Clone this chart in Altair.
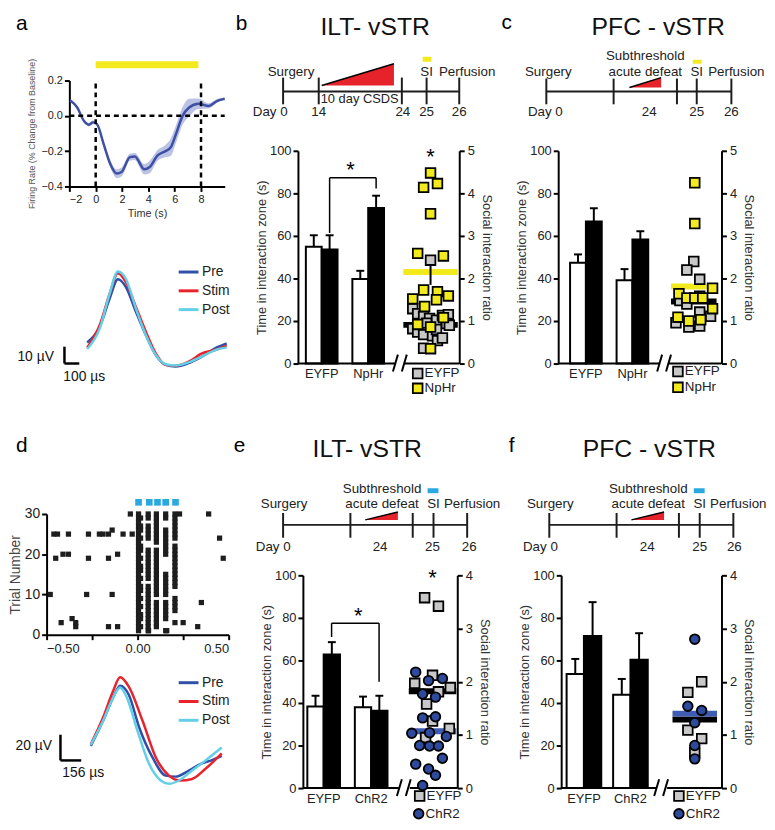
import altair as alt
import pandas as pd

FONT = "Liberation Sans"
YELLOW = "#f3ea1d"
RED = "#e6232a"
SKY = "#2aa9e0"
GRAY = "#c8c8c8"
NAVY = "#2d4a9d"
MEANBLUE = "#3f5cb5"
INK = "#1e1e1e"

# ======================= DATA =======================
# ---- a: firing rate (% change from baseline) ----
fr_time = [-1.95, -1.4, -0.9, -0.52, -0.2, 0.1, 0.6, 1.1, 1.6, 1.97, 2.6, 2.97,
           3.7, 4.1, 4.7, 5.3, 5.7, 6.1, 6.6, 7.1, 7.8, 8.6, 9.2, 9.8]
fr_mean = [0.088, 0.047, -0.028, -0.05, -0.037, -0.047, -0.159, -0.271, -0.327, -0.318,
           -0.234, -0.23, -0.303, -0.29, -0.224, -0.2, -0.178, -0.103, 0.0, 0.047,
           0.069, 0.056, 0.084, 0.097]
fr_sem = [0.005, 0.005, 0.005, 0.01, 0.01, 0.01, 0.015, 0.02, 0.025, 0.025, 0.02, 0.02,
          0.03, 0.035, 0.03, 0.035, 0.05, 0.05, 0.05, 0.05, 0.03, 0.015, 0.01, 0.005]
light_a = [0.0, 7.8]
events_a = [0, 8]

# ---- a: waveforms (us, uV) ----
wave_series = ["Pre", "Stim", "Post"]
wa_t = [0, 84, 151, 207, 262, 329, 396, 462, 529, 596, 684, 773, 862, 940]
wa_pre = [14.3, 23.5, 40.2, 51.9, 47.1, 32.4, 18.6, 6.9, 1.0, 0.0, 2.0, 5.9, 10.8, 13.7]
wa_stim = [11.2, 24.5, 43.1, 55.5, 50.0, 35.3, 20.6, 7.8, 1.0, 0.4, 2.9, 7.8, 9.8, 12.4]
wa_post = [10.4, 22.5, 43.1, 56.5, 51.9, 34.3, 18.6, 6.9, 1.4, 0.6, 2.5, 5.9, 9.8, 11.4]
scalebar_a = {"uV": 10, "us": 100}

# ---- d: waveforms ----
wd_pre_t = [0, 91, 166, 220, 285, 364, 463, 562, 636, 736, 834, 909, 983]
wd_pre = [29.5, 48.8, 66.7, 76.2, 69.2, 43.6, 20.5, 6.4, 5.6, 10.3, 15.9, 18.5, 21.8]
wd_stim_t = [0, 91, 166, 220, 285, 389, 488, 587, 673, 760, 859, 983]
wd_stim = [30.8, 51.3, 71.8, 82.8, 75.6, 48.8, 20.5, 6.4, 2.6, 3.8, 11.5, 23.6]
wd_post_t = [0, 91, 166, 220, 270, 351, 438, 525, 587, 661, 760, 859, 983]
wd_post = [30.3, 48.8, 66.7, 74.9, 67.2, 41.0, 15.4, 2.6, 0.0, 2.6, 10.3, 18.0, 28.2]
scalebar_d = {"uV": 20, "us": 156}

# ---- d: raster ----
pulse_t = [0.005, 0.058, 0.103, 0.154, 0.205]
pulse_trials = [
    [1, 2, 3, 4, 5, 6, 7, 8, 9, 10, 11, 12, 13, 14, 15, 16, 17, 18, 19, 20, 21, 22, 23, 24, 25, 26, 27, 28, 29, 30],
    [1, 2, 3, 4, 5, 6, 7, 8, 9, 10, 11, 12, 14, 15, 16, 17, 18, 19, 20, 21, 24, 25, 26, 27, 29, 30],
    [2, 3, 4, 5, 6, 7, 8, 10, 11, 12, 13, 14, 15, 16, 17, 18, 19, 20, 21, 23, 24, 25, 26, 27, 28, 29, 30],
    [1, 4, 5, 6, 7, 8, 10, 11, 12, 13, 14, 15, 20, 21, 22, 23, 24, 25, 26, 29, 30],
    [3, 6, 7, 8, 9, 12, 13, 14, 15, 16, 17, 18, 19, 20, 21, 22, 24, 25, 26, 27, 28, 29, 30],
]
# second spike within the first pulse window (makes the 0-20 ms column wider)
pulse0_late_t = 0.016
pulse0_late_trials = [2, 4, 5, 7, 9, 11, 12, 14, 16, 17, 19, 21, 22, 24, 26, 27, 29]
bg_t = [-0.46, -0.44, -0.38, -0.27, -0.21, -0.19, -0.16, -0.14, -0.08, -0.04, -0.03,
        -0.45, -0.41, -0.38, -0.27, -0.16, -0.11, -0.48, -0.28, -0.14,
        -0.42, -0.36, -0.34, -0.34, -0.16, -0.11, 0.23, 0.39, 0.45, 0.47, 0.35, 0.25,
        0.33, 0.06, 0.16]
bg_trial = [25, 25, 25, 25, 25, 25, 25, 26, 25, 30, 25,
            19, 20, 20, 19, 19, 20, 10, 10, 10,
            3, 4, 3, 2, 2, 2, 30, 30, 24, 19, 8, 3,
            2, 1, 1]
stim_pulses_d = [0.005, 0.064, 0.109, 0.154, 0.208]

# ---- bar panels ----
grp_b = ["EYFP", "NpHr"]
b_white, b_white_sem = [54.9, 39.7], [5.4, 3.9]
b_black, b_black_sem = [53.6, 73.1], [6.7, 5.8]
b_eyfp = [2.43, 1.29, 1.17, 1.11, 1.06, 1.02, 1.13, 1.15, 0.82, 0.74, 0.68, 0.65, 0.54, 0.94, 0.90, 0.36, 0.80, 0.60, 0.95]
b_eyfp_jit = [0, -18, -13, -7, -1, 6, 12, 18, -18, -13, -7, 2, 7, 16, 19, -7, 6, 12, -4]
b_nphr = [4.48, 4.14, 4.23, 3.52, 2.59, 2.53, 1.73, 1.69, 1.50, 1.59, 1.52, 1.34, 1.08, 0.92, 0.86, 0.35]
b_nphr_jit = [0, -7, 7, 0, -13, 13, -7, 7, 6, 18, -18, -6, 13, -13, 0, 0]
b_means = [0.91, 2.15]
b_sc_sem = [0.0, 0.3]

grp_c = ["EYFP", "NpHr"]
c_white, c_white_sem = [47.4, 39.2], [3.9, 5.2]
c_black, c_black_sem = [66.8, 58.3], [6.2, 3.9]
c_eyfp = [2.40, 2.20, 1.98, 1.48, 1.40, 1.58, 1.21, 1.11, 0.96, 0.86, 0.88]
c_eyfp_jit = [0, -7, 6, -14, -7, 6, 6, 17, -18, -5, 6]
c_nphr = [4.25, 3.29, 1.64, 1.54, 1.54, 1.54, 1.77, 1.29, 1.09, 1.00, 1.03]
c_nphr_jit = [1, 1, -15, -7, 1, 9, 19, 19, -16, -5, 7]
c_means = [1.46, 1.81]

grp_e = ["EYFP", "ChR2"]
e_white, e_white_sem = [38.4, 38.0], [5.0, 5.0]
e_black, e_black_sem = [62.8, 36.4], [5.8, 7.0]
e_eyfp = [3.58, 3.42, 2.12, 1.97, 1.89, 1.81, 1.58, 1.26, 1.12, 0.95]
e_eyfp_jit = [-8, 6, 0, -18, 18, 6, -6, 0, 17, -7]
e_chr2 = [2.18, 2.02, 2.06, 1.77, 1.71, 1.32, 1.34, 1.03, 1.04, 0.97, 0.80, 0.79, 0.79, 0.56, 0.45, 0.36, 0.24, 0.05]
e_chr2_jit = [-17, -4, 10, -10, 3, -10, 3, -21, -3, 14, -13, -3, 6, 10, -17, -4, 3, -10]
e_means = [1.82, 1.07]

grp_f = ["EYFP", "ChR2"]
f_white, f_white_sem = [53.6, 43.9], [7.1, 7.4]
f_black, f_black_sem = [71.5, 60.3], [15.9, 12.5]
f_eyfp = [2.0, 1.8, 1.09, 0.93, 0.67]
f_eyfp_jit = [7, -7, -7, 7, 0]
f_chr2 = [2.8, 1.54, 1.46, 1.23, 0.80, 0.55]
f_chr2_jit = [0, -7, 7, 0, 0, 0]
f_means = [1.29, 1.40]

# ---- timelines ----
days_b = ["Day 0", "14", "24", "25", "26"]
events_b = ["Surgery", "SI", "Perfusion"]
protocol_b = "10 day CSDS"
days_sub = ["Day 0", "24", "25", "26"]
events_sub = ["Surgery", "Subthreshold", "acute defeat", "SI", "Perfusion"]

# ======================= LAYOUT (page pixels) =======================
ORIGIN = {"a": (66, 40), "b": (302, 40), "c": (563, 40),
          "d": (66, 402), "e": (302, 402), "f": (563, 402)}
VIEW = {"a": (133, 143), "b": (158, 322), "c": (162, 322),
        "d": (133, 234), "e": (156, 389), "f": (162, 389)}


def S(domain, rng):
    return alt.Scale(domain=domain, range=rng, nice=False, zero=False)


def letter(txt, page_xy, O, size=21):
    return alt.Chart(pd.DataFrame({"txt": [txt]})).mark_text(
        fontSize=size, font=FONT, color="black", align="center", baseline="middle", clip=False
    ).encode(x=alt.value(page_xy[0] - O[0]), y=alt.value(page_xy[1] - O[1]), text="txt:N")


AXS = dict(domainColor="black", domainWidth=2, tickColor="black", tickWidth=2, grid=False,
           labelColor="#222", titleFontWeight="normal", labelFont=FONT, titleFont=FONT)


def wave_layer(series_t, series_v, xs, ys, sb, sb_anchor, txt_uv, txt_us, leg_xy):
    rows = []
    for name, ts, vs in zip(wave_series, series_t, series_v):
        for t, v in zip(ts, vs):
            rows.append({"series": name, "t": t, "v": v})
    df = pd.DataFrame(rows)
    X = lambda f: alt.X(f, scale=xs, axis=None)
    Y = lambda f: alt.Y(f, scale=ys, axis=None)
    lines = alt.Chart(df).mark_line(strokeWidth=2.5, interpolate="monotone", clip=False).encode(
        x=X("t:Q"), y=Y("v:Q"),
        color=alt.Color("series:N", sort=wave_series,
                        scale=alt.Scale(domain=wave_series, range=["#2f4fa8", "#e8232b", "#63cfe6"]),
                        legend=alt.Legend(orient="none", legendX=leg_xy[0], legendY=leg_xy[1], title=None,
                                          symbolType="stroke", symbolSize=400, symbolStrokeWidth=3,
                                          labelFontSize=14, labelOffset=2, rowPadding=-8,
                                          labelFont=FONT, labelColor="#222")))
    t0, v0 = sb_anchor
    vbar = pd.DataFrame({"t": [t0], "v": [v0], "v2": [v0 + sb["uV"]]})
    hbar = pd.DataFrame({"t": [t0], "t2": [t0 + sb["us"]], "v": [v0]})
    r1 = alt.Chart(vbar).mark_rule(color="black", strokeWidth=2.5, clip=False).encode(
        x=X("t:Q"), y=Y("v:Q"), y2="v2:Q")
    r2 = alt.Chart(hbar).mark_rule(color="black", strokeWidth=2.5, clip=False).encode(
        x=X("t:Q"), x2="t2:Q", y=Y("v:Q"))
    tdf = pd.DataFrame({"t": [txt_uv[0], txt_us[0]], "v": [txt_uv[1], txt_us[1]],
                        "txt": [f"{sb['uV']} µV", f"{sb['us']} µs"]})
    texts = alt.Chart(tdf).mark_text(fontSize=14, font=FONT, color="#111", baseline="middle",
                                     clip=False).encode(x=X("t:Q"), y=Y("v:Q"), text="txt:N")
    return alt.layer(lines, r1, r2, texts)


# ======================= PANEL a =======================
Oa = ORIGIN["a"]
fr_df = pd.DataFrame({"t": fr_time, "m": fr_mean, "s": fr_sem})
fr_df["lo"] = fr_df["m"] - fr_df["s"]
fr_df["hi"] = fr_df["m"] + fr_df["s"]

ax_ax = alt.Axis(values=[-2, 0, 2, 4, 6, 8], format="d", title="Time (s)", tickSize=5,
                 labelFontSize=11, titleFontSize=11, labelPadding=2, titlePadding=3,
                 titleColor="#333", **AXS)
ay_ax = alt.Axis(values=[-0.4, -0.2, 0, 0.2], format=".1f",
                 title="Firing Rate (% Change from Baseline)", tickSize=5,
                 labelFontSize=11, titleFontSize=9, titleColor="#555", labelPadding=2,
                 titlePadding=4, **AXS)
xs_a = S([-2, 9.8], [66 - Oa[0], 223 - Oa[0]])
ys_a = S([-0.4, 0.2], [183 - Oa[1], 76 - Oa[1]])
XA = lambda f: alt.X(f, scale=xs_a, axis=ax_ax)
YA = lambda f: alt.Y(f, scale=ys_a, axis=ay_ax)

band = alt.Chart(fr_df).mark_area(color="#bcc3e4", interpolate="monotone", clip=False).encode(
    x=XA("t:Q"), y=YA("lo:Q"), y2="hi:Q")
fr_line = alt.Chart(fr_df).mark_line(color="#3d50a3", strokeWidth=2.5, interpolate="monotone",
                                     clip=False).encode(x=XA("t:Q"), y=YA("m:Q"))
ev_df = pd.DataFrame({"t": events_a, "v": [-0.4] * 2, "v2": [0.2] * 2})
ev = alt.Chart(ev_df).mark_rule(color="black", strokeWidth=2.5, strokeDash=[5, 4], clip=False).encode(
    x=XA("t:Q"), y=YA("v:Q"), y2="v2:Q")
zero_df = pd.DataFrame({"t": [-2], "t2": [9.8], "v": [0.0]})
zero = alt.Chart(zero_df).mark_rule(color="black", strokeWidth=2.5, strokeDash=[5, 4], clip=False).encode(
    x=XA("t:Q"), x2="t2:Q", y=YA("v:Q"))
light_df = pd.DataFrame({"t": [light_a[0]], "t2": [light_a[1]], "v": [0.27], "v2": [0.31]})
light = alt.Chart(light_df).mark_rect(color=YELLOW, clip=False).encode(
    x=XA("t:Q"), x2="t2:Q", y=YA("v:Q"), y2="v2:Q")
anchor = alt.Chart(pd.DataFrame({"z": [0]})).mark_rect(opacity=0, clip=False).encode(
    x=alt.value(8 - Oa[0]), x2=alt.value(9 - Oa[0]), y=alt.value(8 - Oa[1]), y2=alt.value(9 - Oa[1]))
a_fr = alt.layer(band, fr_line, ev, zero, light, letter("a", (18, 19), Oa), anchor)

a_wave = wave_layer([wa_t, wa_t, wa_t], [wa_pre, wa_stim, wa_post],
                    S([0, 940], [84 - Oa[0], 225 - Oa[0]]), S([0, 60], [365 - Oa[1], 263 - Oa[1]]),
                    scalebar_a, (-153, 1.8), (-347, 5.9), (-20, -6.5), (175 - Oa[0], 258 - Oa[1]))
panel_a = alt.layer(a_fr, a_wave).resolve_scale(x="independent", y="independent").properties(
    width=VIEW["a"][0], height=VIEW["a"][1])

# ======================= PANEL d =======================
Od = ORIGIN["d"]
r_rows = []
for t, trials in zip(pulse_t, pulse_trials):
    for tr in trials:
        r_rows.append({"t": t, "trial": tr})
for tr in pulse0_late_trials:
    r_rows.append({"t": pulse0_late_t, "trial": tr})
for t, tr in zip(bg_t, bg_trial):
    r_rows.append({"t": t, "trial": tr})
r_df = pd.DataFrame(r_rows)
xs_r = S([-0.5, 0.5], [43 - Od[0], 227 - Od[0]])
ys_r = S([0, 30], [636 - Od[1], 514 - Od[1]])
rx_ax = alt.Axis(values=[-0.5, -0.25, 0, 0.25, 0.5], format=".2f", title=None, tickSize=5,
                 labelFontSize=13, labelPadding=3, **AXS)
ry_ax = alt.Axis(values=[0, 10, 20, 30], title="Trial Number", tickSize=5, labelFontSize=14,
                 titleFontSize=14, labelPadding=2, titlePadding=2, titleColor="#444",
                 offset=Od[0] - 43, **AXS)
raster_pts = alt.Chart(r_df).mark_square(size=28, color="#1e1e1e", opacity=1, clip=False).encode(
    x=alt.X("t:Q", scale=xs_r, axis=rx_ax), y=alt.Y("trial:Q", scale=ys_r, axis=ry_ax))
stim_df = pd.DataFrame({"t": stim_pulses_d, "trial": [32.9] * len(stim_pulses_d)})
stim_pts = alt.Chart(stim_df).mark_square(size=45, color=SKY, opacity=1, clip=False).encode(
    x=alt.X("t:Q", scale=xs_r, axis=rx_ax), y=alt.Y("trial:Q", scale=ys_r, axis=ry_ax))
raster = alt.layer(raster_pts, stim_pts, letter("d", (18, 445), Od))

d_wave = wave_layer([wd_pre_t, wd_stim_t, wd_post_t], [wd_pre, wd_stim, wd_post],
                    S([0, 983], [87.7 - Od[0], 220 - Od[0]]), S([0, 80], [786.7 - Od[1], 682.7 - Od[1]]),
                    scalebar_d, (-228, 18.2), (-429, 29), (-57, 8.2), (175 - Od[0], 673 - Od[1]))
panel_d = alt.layer(raster, d_wave).resolve_scale(x="independent", y="independent").properties(
    width=VIEW["d"][0], height=VIEW["d"][1])


# ======================= TIMELINES =======================
def timeline(L, O, days, events, protocol=None):
    tk = L["ticks"]
    xs = S([0, tk[-1]], [L["day0"] - O[0], L["day0"] + tk[-1] - O[0]])
    ys = S([-31, 47], [L["line"] + 31 - O[1], L["line"] - 47 - O[1]])
    X = lambda f: alt.X(f, scale=xs, axis=None)
    Y = lambda f: alt.Y(f, scale=ys, axis=None)
    line_df = pd.DataFrame({"x": [tk[0]], "x2": [tk[-1]], "y": [0]})
    tick_df = pd.DataFrame({"x": tk, "y": [L["tick_y"][0]] * len(tk), "y2": [L["tick_y"][1]] * len(tk)})
    base = alt.Chart(line_df).mark_rule(color=INK, strokeWidth=2, clip=False).encode(
        x=X("x:Q"), x2="x2:Q", y=Y("y:Q"))
    ticks = alt.Chart(tick_df).mark_rule(color=INK, strokeWidth=2, clip=False).encode(
        x=X("x:Q"), y=Y("y:Q"), y2="y2:Q")
    tri_df = pd.DataFrame({"x": L["tri"], "y": [L["tri_y"][0], L["tri_y"][1]], "y2": [L["tri_y"][0]] * 2})
    tri = alt.Chart(tri_df).mark_area(color=RED, opacity=1, clip=False).encode(
        x=X("x:Q"), y=Y("y:Q"), y2="y2:Q")
    hyp = alt.Chart(tri_df).mark_line(color="black", strokeWidth=1.4, clip=False).encode(
        x=X("x:Q"), y=Y("y:Q"))
    box_df = pd.DataFrame({"x": [L["box"][0]], "x2": [L["box"][1]], "y": [L["box_y"][0]], "y2": [L["box_y"][1]]})
    box = alt.Chart(box_df).mark_rect(color=L["box_color"], clip=False).encode(
        x=X("x:Q"), x2="x2:Q", y=Y("y:Q"), y2="y2:Q")
    top_df = pd.DataFrame({"x": L["top_x"], "y": L["top_y"], "txt": events})
    bot_df = pd.DataFrame({"x": L["bot_x"], "y": [L["bot_y"]] * len(days), "txt": days})
    lab = dict(fontSize=13.5, font=FONT, color="#222", baseline="middle", clip=False)
    tops = alt.Chart(top_df).mark_text(**lab).encode(x=X("x:Q"), y=Y("y:Q"), text="txt:N")
    bots = alt.Chart(bot_df).mark_text(**lab).encode(x=X("x:Q"), y=Y("y:Q"), text="txt:N")
    layers = [tri, hyp, base, ticks, box, tops, bots]
    if protocol:
        p_df = pd.DataFrame({"x": [L["inner_x"]], "y": [L["inner_y"]], "txt": [protocol]})
        lab2 = dict(lab, fontSize=13)
        layers.append(alt.Chart(p_df).mark_text(align="left", **lab2).encode(
            x=X("x:Q"), y=Y("y:Q"), text="txt:N"))
    title = alt.Chart(pd.DataFrame({"txt": [L["title"]]})).mark_text(
        fontSize=25, font=FONT, color="#111", align="center", baseline="middle", clip=False
    ).encode(x=alt.value(L["title_xy"][0] - O[0]), y=alt.value(L["title_xy"][1] - O[1]), text="txt:N")
    layers += [title, letter(L["letter"], L["letter_xy"], O)]
    return alt.layer(*layers)


TL_B = dict(day0=282, line=87, ticks=[0, 36, 120, 145, 178], tick_y=[-13, 14],
            top_x=[8, 145, 186], top_y=[20, 20, 20], bot_x=[-13, 36, 121, 145, 178], bot_y=-21,
            tri=[39, 112], tri_y=[6, 28], box=[141, 150], box_y=[30, 35], box_color=YELLOW,
            inner_x=38, inner_y=-8, title="ILT- vSTR", title_xy=(375, 22), letter="b", letter_xy=(240, 19))
TL_C = dict(day0=548, line=87, ticks=[0, 68, 132, 152, 187], tick_y=[-13, 13],
            top_x=[2, 100, 100, 152, 192], top_y=[20, 36, 20, 20, 20], bot_x=[-1, 104, 152, 187], bot_y=-21,
            tri=[84, 116], tri_y=[4, 14], box=[148, 157], box_y=[28, 32], box_color=YELLOW,
            title="PFC - vSTR", title_xy=(661, 22), letter="c", letter_xy=(508, 18))
TL_E = dict(day0=282, line=525, ticks=[0, 68, 131, 152, 186], tick_y=[-13, 12],
            top_x=[1, 100, 100, 152, 191], top_y=[21, 36, 21, 21, 21], bot_x=[-10, 98, 151, 188], bot_y=-22,
            tri=[83, 116], tri_y=[5, 13], box=[146, 157], box_y=[32, 37], box_color=SKY,
            title="ILT- vSTR", title_xy=(367, 448), letter="e", letter_xy=(238, 445))
TL_F = dict(day0=551, line=525, ticks=[0, 68, 131, 152, 186], tick_y=[-13, 12],
            top_x=[1, 100, 100, 152, 191], top_y=[21, 36, 21, 21, 21], bot_x=[-9, 99, 152, 187], bot_y=-22,
            tri=[83, 116], tri_y=[5, 13], box=[146, 157], box_y=[32, 37], box_color=SKY,
            title="PFC - vSTR", title_xy=(652, 448), letter="f", letter_xy=(513, 445))


# ======================= BAR + SCATTER PANELS =======================
def bar_panel(L, key, groups, white, white_sem, black, black_sem, sc_vals, sc_jit, means, sc_sem,
              fills, shapes, mean_cols, tl):
    O = ORIGIN[key]
    vw, vh = VIEW[key]
    W = L["xr"] - L["xl"]
    xs = S([0, W], [L["xl"] - O[0], L["xr"] - O[0]])
    ls = S([0, 100], [L["yb"] - O[1], L["yt"] - O[1]])
    rs = S([0, L["rmax"]], [L["yb"] - O[1], L["yt"] - O[1]])
    lax = alt.Axis(values=[0, 20, 40, 60, 80, 100], title="Time in interaction zone (s)", tickSize=5,
                   labelFontSize=13, titleFontSize=13, labelPadding=2, titlePadding=1,
                   titleColor="#333", offset=O[0] - L["xl"], **AXS)
    rax = alt.Axis(orient="right", values=list(range(L["rmax"] + 1)), format="d",
                   title="Social interaction ratio", titleAngle=90, tickSize=5,
                   labelFontSize=13, titleFontSize=13, labelPadding=3, titlePadding=5,
                   titleColor="#333", offset=L["xr"] - (O[0] + vw), **AXS)
    X = lambda f: alt.X(f, scale=xs, axis=None)
    LY = lambda f: alt.Y(f, scale=ls, axis=lax)
    RY = lambda f: alt.Y(f, scale=rs, axis=rax)
    fill_enc = alt.Fill("grp:N", scale=alt.Scale(domain=groups, range=fills), legend=None)
    shape_enc = alt.Shape("grp:N", scale=alt.Scale(domain=groups, range=shapes), legend=None)

    rows = []
    bw = L["bar_w"]
    for i, g in enumerate(groups):
        c = L["centers"][i]
        rows.append({"grp": g, "cond": "no target", "x": c - bw, "x2": c, "xc": c - bw / 2,
                     "y": white[i], "top": white[i] + white_sem[i]})
        rows.append({"grp": g, "cond": "target", "x": c, "x2": c + bw, "xc": c + bw / 2,
                     "y": black[i], "top": black[i] + black_sem[i]})
    bdf = pd.DataFrame(rows)
    bdf["base"] = 0.0
    bdf["cl"] = bdf["xc"] - 4
    bdf["cr"] = bdf["xc"] + 4
    err = alt.Chart(bdf).mark_rule(color="black", strokeWidth=2, clip=False).encode(
        x=X("xc:Q"), y=LY("y:Q"), y2="top:Q")
    cap = alt.Chart(bdf).mark_rule(color="black", strokeWidth=2, clip=False).encode(
        x=X("cl:Q"), x2="cr:Q", y=LY("top:Q"))
    bars_w = alt.Chart(bdf[bdf["cond"] == "no target"]).mark_rect(
        fill="white", stroke="black", strokeWidth=2, clip=False).encode(
        x=X("x:Q"), x2="x2:Q", y=LY("y:Q"), y2="base:Q")
    bars_k = alt.Chart(bdf[bdf["cond"] == "target"]).mark_rect(
        fill="black", stroke="black", strokeWidth=2, clip=False).encode(
        x=X("x:Q"), x2="x2:Q", y=LY("y:Q"), y2="base:Q")
    seg_df = pd.DataFrame({"x": [0, L["seg2"]], "x2": [L["seg1"], W], "y": [0, 0]})
    segs = alt.Chart(seg_df).mark_rule(color="black", strokeWidth=2, clip=False).encode(
        x=X("x:Q"), x2="x2:Q", y=LY("y:Q"))
    sx = L["slash"]
    sl_df = pd.DataFrame({"x": [sx, sx + 9], "x2": [sx + 5, sx + 14], "y": [-3.7, -3.7], "y2": [4.2, 4.2]})
    slashes = alt.Chart(sl_df).mark_rule(color="black", strokeWidth=2, clip=False).encode(
        x=X("x:Q"), x2="x2:Q", y=LY("y:Q"), y2="y2:Q")
    lab_df = pd.DataFrame({"x": L["centers"], "y": [0, 0], "txt": groups})
    labs = alt.Chart(lab_df).mark_text(fontSize=13, font=FONT, color="#222", dy=11, baseline="middle",
                                       clip=False).encode(x=X("x:Q"), y=LY("y:Q"), text="txt:N")
    left = [err, cap, bars_w, bars_k, segs, slashes, labs]
    if L.get("bracket"):
        xl, xr, top, bl, br = L["bracket"]
        br_df = pd.DataFrame({"x": [xl, xl, xr], "x2": [xl, xr, xr], "y": [bl, top, br], "y2": [top, top, top]})
        left.append(alt.Chart(br_df).mark_rule(color="black", strokeWidth=1.5, clip=False).encode(
            x=X("x:Q"), x2="x2:Q", y=LY("y:Q"), y2="y2:Q"))
        st_df = pd.DataFrame({"x": [L["star_l"][0]], "y": [L["star_l"][1]], "txt": ["*"]})
        left.append(alt.Chart(st_df).mark_text(fontSize=22, font=FONT, color="black", baseline="middle",
                                               clip=False).encode(x=X("x:Q"), y=LY("y:Q"), text="txt:N"))

    sc_rows = []
    for g, vals, jit in zip(groups, sc_vals, sc_jit):
        for v, j in zip(vals, jit):
            sc_rows.append({"grp": g, "x": L["sc_center"] + j, "v": v})
    sdf = pd.DataFrame(sc_rows)
    half = L["mean_half"]
    mdf = pd.DataFrame({"grp": groups, "x": [L["sc_center"] - half] * 2, "x2": [L["sc_center"] + half] * 2,
                        "v": means})
    mean_lines = alt.Chart(mdf).mark_rule(strokeWidth=6, clip=False).encode(
        x=X("x:Q"), x2="x2:Q", y=RY("v:Q"),
        stroke=alt.Stroke("grp:N", scale=alt.Scale(domain=groups, range=mean_cols), legend=None))
    right = [mean_lines]
    if sc_sem:
        edf = pd.DataFrame({"x": [L["sc_center"]] * 2, "lo": [m - s for m, s in zip(means, sc_sem)],
                            "hi": [m + s for m, s in zip(means, sc_sem)], "s": sc_sem})
        edf = edf[edf["s"] > 0]
        right.append(alt.Chart(edf).mark_rule(color="black", strokeWidth=2, clip=False).encode(
            x=X("x:Q"), y=RY("lo:Q"), y2="hi:Q"))
    pt_style = dict(filled=True, stroke="black", strokeWidth=1.8, size=95, opacity=1, clip=False)
    pts = alt.Chart(sdf).mark_point(**pt_style).encode(
        x=X("x:Q"), y=RY("v:Q"), fill=fill_enc, shape=shape_enc)
    right.append(pts)
    # key below the scatter (positioned in page pixels, converted to scale units)
    px_per_unit = (L["yb"] - L["yt"]) / L["rmax"]
    kdf = pd.DataFrame({"grp": groups,
                        "x": [p[0] - L["xl"] for p in L["key"]],
                        "v": [(L["yb"] - p[1]) / px_per_unit for p in L["key"]]})
    kdf["xt"] = kdf["x"] + 7
    right.append(alt.Chart(kdf).mark_point(**pt_style).encode(
        x=X("x:Q"), y=RY("v:Q"), fill=fill_enc, shape=shape_enc))
    right.append(alt.Chart(kdf).mark_text(fontSize=13.5, font=FONT, color="#222", align="left",
                                          baseline="middle", clip=False).encode(
        x=X("xt:Q"), y=RY("v:Q"), text="grp:N"))
    if L.get("star_r"):
        sr = pd.DataFrame({"x": [L["star_r"][0]], "v": [L["star_r"][1]], "txt": ["*"]})
        right.append(alt.Chart(sr).mark_text(fontSize=22, font=FONT, color="black", baseline="middle",
                                             clip=False).encode(x=X("x:Q"), y=RY("v:Q"), text="txt:N"))
    inner = alt.layer(alt.layer(*left), alt.layer(*right)).resolve_scale(y="independent")
    return alt.layer(inner, tl).resolve_scale(x="independent", y="independent").properties(
        width=vw, height=vh)


BAR_B = dict(xl=297, xr=460, yt=147, yb=362, rmax=5, centers=[24, 71], bar_w=16, seg1=98, seg2=108,
             slash=96, bracket=(32, 79, 87.3, 61.4, 82.3), star_l=(53, 91), sc_center=134, mean_half=27.5,
             star_r=(134, 4.85), key=[(418, 372), (418, 387)])
BAR_C = dict(xl=560, xr=725, yt=147, yb=362, rmax=5, centers=[28, 75], bar_w=16, seg1=102, seg2=112,
             slash=100, sc_center=137, mean_half=23, key=[(681, 370), (681, 386)])
BAR_E = dict(xl=302, xr=458, yt=576, yb=791, rmax=4, centers=[21, 69], bar_w=16.5, seg1=97, seg2=108,
             slash=95, bracket=(29, 77, 77.5, 71, 50), star_l=(56, 81), sc_center=131, mean_half=24,
             star_r=(131, 3.95), key=[(420, 799), (419, 817)])
BAR_F = dict(xl=563, xr=725, yt=576, yb=791, rmax=4, centers=[23, 70], bar_w=17.5, seg1=96, seg2=107,
             slash=94, sc_center=135, mean_half=22.5, key=[(682, 799), (682, 817)])

panel_b = bar_panel(BAR_B, "b", grp_b, b_white, b_white_sem, b_black, b_black_sem,
                    [b_eyfp, b_nphr], [b_eyfp_jit, b_nphr_jit], b_means, b_sc_sem,
                    [GRAY, YELLOW], ["square", "square"], ["black", YELLOW],
                    timeline(TL_B, ORIGIN["b"], days_b, events_b, protocol_b))
panel_c = bar_panel(BAR_C, "c", grp_c, c_white, c_white_sem, c_black, c_black_sem,
                    [c_eyfp, c_nphr], [c_eyfp_jit, c_nphr_jit], c_means, None,
                    [GRAY, YELLOW], ["square", "square"], ["black", YELLOW],
                    timeline(TL_C, ORIGIN["c"], days_sub, events_sub))
panel_e = bar_panel(BAR_E, "e", grp_e, e_white, e_white_sem, e_black, e_black_sem,
                    [e_eyfp, e_chr2], [e_eyfp_jit, e_chr2_jit], e_means, None,
                    [GRAY, NAVY], ["square", "circle"], ["black", MEANBLUE],
                    timeline(TL_E, ORIGIN["e"], days_sub, events_sub))
panel_f = bar_panel(BAR_F, "f", grp_f, f_white, f_white_sem, f_black, f_black_sem,
                    [f_eyfp, f_chr2], [f_eyfp_jit, f_chr2_jit], f_means, None,
                    [GRAY, NAVY], ["square", "circle"], ["black", MEANBLUE],
                    timeline(TL_F, ORIGIN["f"], days_sub, events_sub))

# ======================= GRID =======================
col_gap = ORIGIN["b"][0] - ORIGIN["a"][0] - max(VIEW["a"][0], VIEW["d"][0])
row_gap = ORIGIN["d"][1] - ORIGIN["a"][1] - max(VIEW["a"][1], VIEW["b"][1], VIEW["c"][1])

chart = alt.concat(panel_a, panel_b, panel_c, panel_d, panel_e, panel_f, columns=3,
                   spacing={"row": row_gap, "column": col_gap}, bounds="flush", align="each").resolve_scale(
    color="independent", fill="independent", shape="independent", stroke="independent"
).resolve_legend(
    color="independent", fill="independent", shape="independent", stroke="independent"
).properties(
    padding={"left": 0, "top": 0, "right": 0, "bottom": 0}
).configure(font=FONT).configure_view(stroke=None)

chart.save("out.html", embed_options={"renderer": "svg", "actions": False})
